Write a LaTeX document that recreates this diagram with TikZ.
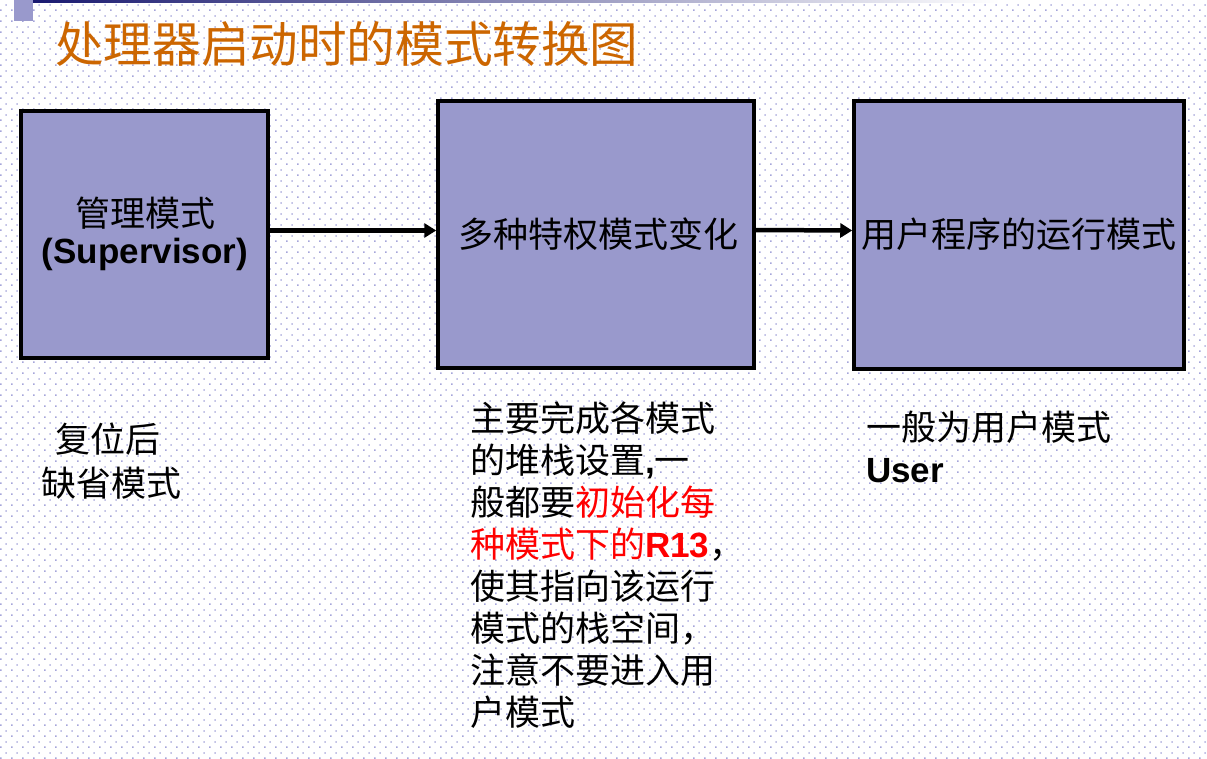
\documentclass[tikz,border=0pt]{standalone}
\usepackage{fontspec}
\setmainfont{Noto Sans CJK SC}
\newfontfamily\latb{Liberation Sans}
\usetikzlibrary{patterns,arrows.meta}
\definecolor{boxfill}{HTML}{9999CC}
\definecolor{titleor}{HTML}{CC6600}
\definecolor{dotc}{RGB}{165,165,218}
\definecolor{navy}{HTML}{1A1A70}
\pgfdeclarepatternformonly{bgdots}{\pgfpointorigin}{\pgfpoint{10.6pt}{10.6pt}}{\pgfpoint{10.6pt}{10.6pt}}{%
  \pgfpathrectangle{\pgfpoint{0.2pt}{0.2pt}}{\pgfpoint{1.5pt}{1.5pt}}%
  \pgfpathrectangle{\pgfpoint{5.5pt}{5.5pt}}{\pgfpoint{1.5pt}{1.5pt}}%
  \pgfusepath{fill}}
\tikzset{
  modebox/.style={draw=black, line width=3.5pt, fill=boxfill, inner sep=0pt},
  cjk/.style={inner sep=0pt, font=\fontsize{35}{42}\selectfont},
  lat/.style={inner sep=0pt, font=\fontsize{35}{42}\selectfont\latb\bfseries},
  arr/.style={draw=black, line width=4.5pt, -{Triangle[length=12pt,width=14pt]}},
}
\begin{document}
\begin{tikzpicture}[x=1pt,y=-1pt]
\useasboundingbox (0,0) rectangle (1207,759);
\fill[white] (0,0) rectangle (1207,759);
\fill[pattern=bgdots, pattern color=dotc] (0,0) rectangle (1207,759);
% top decoration
\shade[left color=navy, right color=white] (33,0) rectangle (1000,3);
\fill[boxfill] (14,0) rectangle (33,21);
% title
\node[inner sep=0pt, anchor=base west, text=titleor, font=\fontsize{48.6}{55}\selectfont] (title) at (55,63) {处理器启动时的模式转换图};
% boxes
\node[modebox, minimum width=247, minimum height=247] (b1) at (144.5,234.5) {};
\node[modebox, minimum width=316, minimum height=267] (b2) at (596,234.5) {};
\node[modebox, minimum width=330, minimum height=268] (b3) at (1019,235) {};
% box texts
\node[cjk, anchor=base] (t1a) at (145.5,227) {管理模式};
\node[lat, anchor=base] (t1b) at (145,264) {(Supervisor)};
\node[cjk, anchor=base] (t2) at (598,248) {多种特权模式变化};
\node[cjk, anchor=base] (t3) at (1018.5,248) {用户程序的运行模式};
% arrows
\draw[arr] ([yshift=4pt]b1.east) -- ([yshift=4pt]b2.west);
\draw[arr] ([yshift=4.5pt]b2.east) -- ([yshift=4.5pt]b3.west);
% left notes
\node[cjk, anchor=base west] (l1) at (55,452) {复位后};
\node[cjk, anchor=base west] (l2) at (41,496) {缺省模式};
% middle notes
\node[cjk, anchor=base west] (m1) at (470,431) {主要完成各模式};
\node[cjk, anchor=base west] (m2) at (470,473) {的堆栈设置{\latb\bfseries ,}一};
\node[cjk, anchor=base west] (m3) at (470,515) {般都要\textcolor{red}{初始化每}};
\node[cjk, anchor=base west] (m4) at (470,557) {\textcolor{red}{种模式下的{\latb\bfseries R13}}，};
\node[cjk, anchor=base west] (m5) at (470,599) {使其指向该运行};
\node[cjk, anchor=base west] (m6) at (470,641) {模式的栈空间，};
\node[cjk, anchor=base west] (m7) at (470,683) {注意不要进入用};
\node[cjk, anchor=base west] (m8) at (470,725) {户模式};
% right notes
\node[cjk, anchor=base west] (r1) at (866,440) {一般为用户模式};
\node[lat, anchor=base west] (r2) at (866,482) {User};
\end{tikzpicture}
\end{document}
